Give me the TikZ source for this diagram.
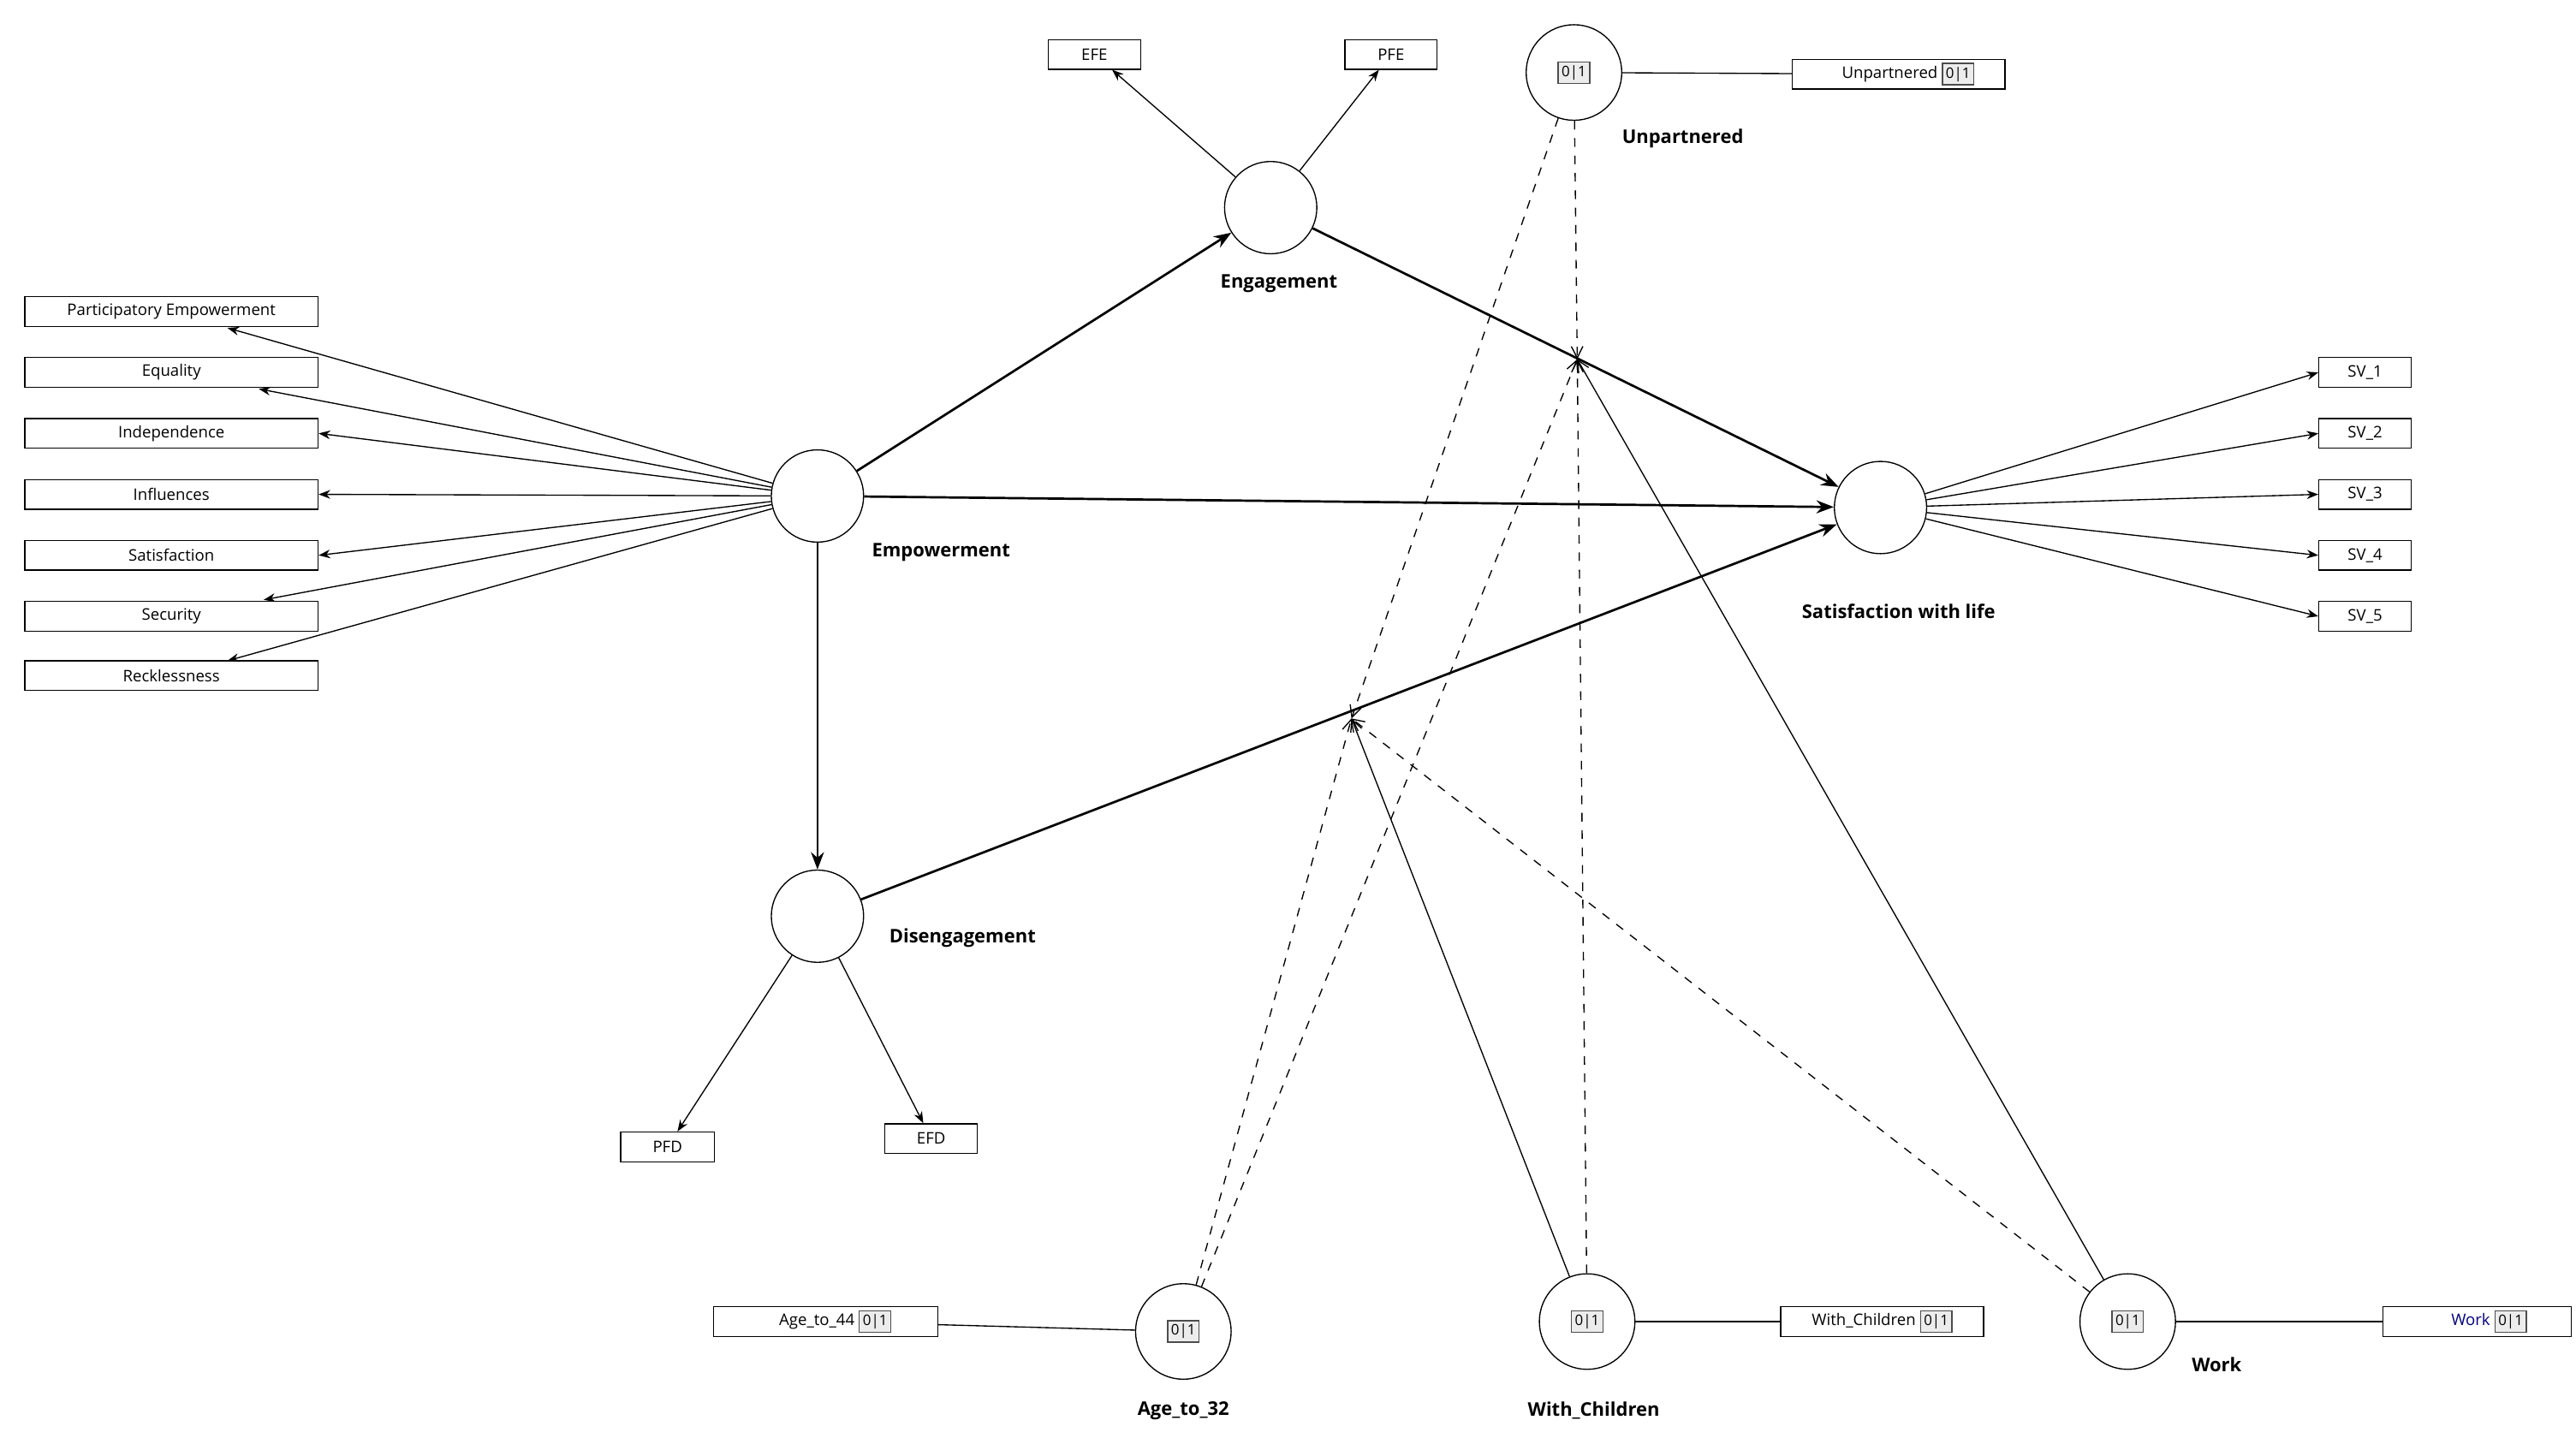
\documentclass[tikz,border=0pt]{standalone}
\usepackage{fontspec}
\setmainfont{Open Sans}
\usetikzlibrary{arrows.meta}
\newcommand{\zobox}{{\setlength{\fboxsep}{1pt}\setlength{\fboxrule}{0.4pt}\fcolorbox{black!70}{gray!15}{\fontsize{5}{6}\selectfont 0|1}}}
\begin{document}
\begin{tikzpicture}[x=0.02cm,y=-0.02cm,
  lat/.style={circle,draw,minimum size=1.12cm,inner sep=0pt},
  mod/.style={circle,draw,minimum size=1.16cm,inner sep=0pt},
  ind/.style={draw,minimum height=0.36cm,inner sep=1pt,font=\fontsize{5.5}{6}\selectfont},
  lbl/.style={font=\fontsize{6.5}{7}\selectfont\bfseries},
  ar/.style={-{Stealth[length=4pt,width=3pt]},thin},
  arb/.style={-{Stealth[length=6pt,width=4.5pt]},line width=0.8pt},
  mdash/.style={dashed,thin,-{Straight Barb[length=4pt,width=4pt]}},
  msol/.style={thin,-{Straight Barb[length=4pt,width=4pt]}}]
\useasboundingbox (0,0) rectangle (1563,869);
% latent
\node[lat] (emp) at (496,301) {};
\node[lat] (eng) at (771,126) {};
\node[lat] (sat) at (1141,308) {};
\node[lat] (dis) at (496,556) {};
\node[lbl] at (571,335) {Empowerment};
\node[lbl] at (776,172) {Engagement};
\node[lbl] at (1152,371) {Satisfaction with life};
\node[lbl] at (584,569) {Disengagement};
% moderators
\node[mod] (unp) at (955,44) {\zobox};
\node[mod] (age) at (718,808) {\zobox};
\node[mod] (wch) at (963,802) {\zobox};
\node[mod] (wrk) at (1291,802) {\zobox};
\node[lbl] at (1021,84) {Unpartnered};
\node[lbl] at (718,856) {Age\_to\_32};
\node[lbl] at (967,856) {With\_Children};
\node[lbl] at (1345,828) {Work};
\node[ind,minimum width=2.58cm] (unpb) at (1152,45) {\hspace{1.2em}Unpartnered \zobox\hspace{1.3em}};
\node[ind,minimum width=2.72cm] (ageb) at (501,802) {\hspace{1.2em}Age\_to\_44 \zobox\hspace{1.8em}};
\node[ind,minimum width=2.46cm] (wchb) at (1142,802) {With\_Children \zobox};
\node[ind,minimum width=2.28cm] (wrkb) at (1503,802) {\hspace{1.5em}\textcolor{blue!50!black}{Work} \zobox\hspace{1.5em}};
\draw (unp) -- (unpb);
\draw (age) -- (ageb);
\draw (wch) -- (wchb);
\draw (wrk) -- (wrkb);
% left indicators
\foreach \n/\t/\y in {pe/Participatory Empowerment/189, eq/Equality/226, in/Independence/263, if/Influences/300, sa/Satisfaction/337, se/Security/374, re/Recklessness/410}
  \node[ind,minimum width=3.56cm] (\n) at (104,\y) {\t};
\coordinate (tpe) at (138,199); \coordinate (teq) at (157,236);
\coordinate (tse) at (160,364); \coordinate (tre) at (138,401);
\draw[ar] (emp) -- (tpe);
\draw[ar] (emp) -- (teq);
\draw[ar] (emp) -- (in.east);
\draw[ar] (emp) -- (if.east);
\draw[ar] (emp) -- (sa.east);
\draw[ar] (emp) -- (tse);
\draw[ar] (emp) -- (tre);
% engagement / disengagement indicators
\node[ind,minimum width=1.12cm] (efe) at (664,33) {EFE};
\node[ind,minimum width=1.12cm] (pfe) at (844,33) {PFE};
\node[ind,minimum width=1.14cm] (pfd) at (405,696) {PFD};
\node[ind,minimum width=1.12cm] (efd) at (565,691) {EFD};
\draw[ar] (eng) -- (efe);
\draw[ar] (eng) -- (pfe);
\draw[ar] (dis) -- (pfd);
\draw[ar] (dis) -- (efd);
% SV
\foreach \i/\y in {1/226,2/263,3/300,4/337,5/374}{
  \node[ind,minimum width=1.12cm] (sv\i) at (1435,\y) {SV\_\i};
  \draw[ar] (sat) -- (sv\i.west);}
% structural
\draw[arb] (emp) -- (eng);
\draw[arb] (emp) -- (sat);
\draw[arb] (emp) -- (dis);
\draw[arb] (eng) -- (sat);
\draw[arb] (dis) -- (sat);
% moderation
\coordinate (p1) at (957,218);
\coordinate (p2) at (820,436);
\draw[mdash] (unp) -- (p1);
\draw[mdash] (unp) -- (p2);
\draw[mdash] (age) -- (p1);
\draw[mdash] (age) -- (p2);
\draw[mdash] (wch) -- (p1);
\draw[msol] (wch) -- (p2);
\draw[msol] (wrk) -- (p1);
\draw[mdash] (wrk) -- (p2);
\end{tikzpicture}
\end{document}
